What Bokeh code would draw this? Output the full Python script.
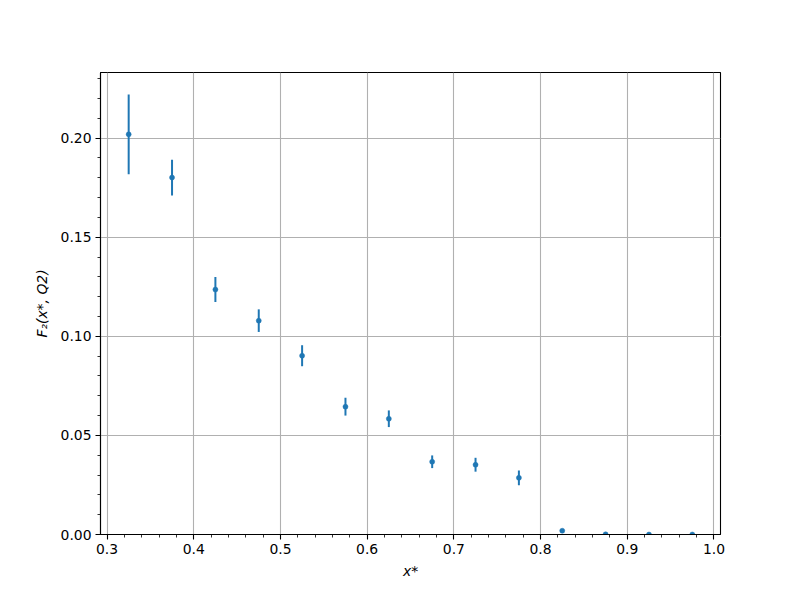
from bokeh.plotting import figure
from bokeh.models import ColumnDataSource, FixedTicker, PrintfTickFormatter, Range1d
from bokeh.embed import file_html
from bokeh.resources import INLINE

x_vals = [0.325, 0.375, 0.425, 0.475, 0.525, 0.575, 0.625, 0.675, 0.725, 0.775, 0.825, 0.875, 0.925, 0.975]
f2_vals = [0.2019, 0.1801, 0.1236, 0.1079, 0.0902, 0.0645, 0.0584, 0.0367, 0.0352, 0.0286, 0.0019, 0.0001, 0.0, 0.0]
f2_err = [0.0201, 0.0090, 0.0063, 0.0057, 0.0053, 0.0045, 0.0042, 0.0032, 0.0035, 0.0037, 0.0004, 0.0001, 0.0, 0.0]

x_major = [0.3, 0.4, 0.5, 0.6, 0.7, 0.8, 0.9, 1.0]
y_major = [0.0, 0.05, 0.10, 0.15, 0.20]

lo = [v - e for v, e in zip(f2_vals, f2_err)]
hi = [v + e for v, e in zip(f2_vals, f2_err)]
src = ColumnDataSource(dict(x=x_vals, y=f2_vals, lo=lo, hi=hi))

xpad = (max(x_vals) - min(x_vals)) * 0.05
ytop = max(hi) * 1.05

p = figure(output_backend="svg", toolbar_location=None,
           frame_width=620, frame_height=462,
           min_border_left=100, min_border_right=72,
           min_border_top=72, min_border_bottom=58,
           x_range=Range1d(min(x_vals) - xpad, max(x_vals) + xpad),
           y_range=Range1d(0, ytop))

color = "#1f77b4"
p.segment(x0="x", y0="lo", x1="x", y1="hi", source=src, line_color=color, line_width=2)
p.scatter(x="x", y="y", source=src, size=5, fill_color=color, line_color=color, line_width=0.5)

x_minor = [round(0.28 + 0.02 * i, 2) for i in range(38)]
y_minor = [round(0.01 * i, 2) for i in range(25)]
p.xaxis.ticker = FixedTicker(ticks=x_major, minor_ticks=x_minor)
p.yaxis.ticker = FixedTicker(ticks=y_major, minor_ticks=y_minor)
p.xaxis.formatter = PrintfTickFormatter(format="%.1f")
p.yaxis.formatter = PrintfTickFormatter(format="%.2f")

for ax in (p.xaxis, p.yaxis):
    ax.major_tick_in = 0
    ax.major_tick_out = 5
    ax.minor_tick_in = 0
    ax.minor_tick_out = 3
    ax.axis_line_color = "black"
    ax.axis_line_width = 1.1
    ax.major_tick_line_color = "black"
    ax.minor_tick_line_color = "black"
    ax.major_tick_line_width = 1.1
    ax.minor_tick_line_width = 0.8
    ax.major_label_text_font = "DejaVu Sans"
    ax.major_label_text_font_size = "13.9px"
    ax.major_label_text_color = "black"
    ax.axis_label_text_font = "DejaVu Sans"
    ax.axis_label_text_font_size = "13.9px"
    ax.axis_label_text_font_style = "italic"
    ax.axis_label_text_color = "black"
    ax.major_label_standoff = 4

p.xaxis.axis_label = "x*"
p.yaxis.axis_label = "F\u2082(x*, Q2)"
p.xaxis.axis_label_standoff = 6
p.yaxis.axis_label_standoff = 8

p.grid.grid_line_color = "#b0b0b0"
p.grid.grid_line_width = 1.1
p.outline_line_color = "black"
p.outline_line_width = 1.1
p.outline_line_alpha = 1.0
p.background_fill_color = "white"
p.border_fill_color = "white"

open("out.html", "w").write(file_html(p, INLINE))
